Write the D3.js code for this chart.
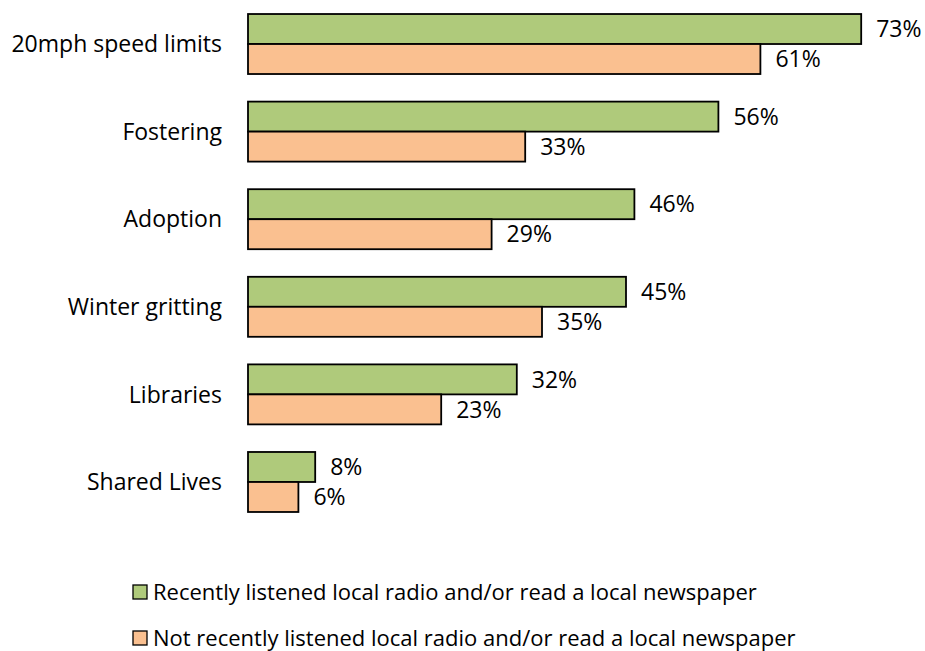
<!DOCTYPE html>
<html>
<head>
<meta charset="utf-8">
<script src="https://cdn.jsdelivr.net/npm/d3@7"></script>
<style>
  html, body { margin: 0; padding: 0; background: #fff; }
  svg text { font-family: "Open Sans", "Noto Sans", sans-serif; fill: #000; }
</style>
</head>
<body>
<svg id="chart" width="925" height="651"></svg>
<script>
// Share of respondents aware of each council service, by media consumption
const categories = ["20mph speed limits", "Fostering", "Adoption", "Winter gritting", "Libraries", "Shared Lives"];
const recentValues = [73, 56, 46, 45, 32, 8];
const notRecentValues = [61, 33, 29, 35, 23, 6];
const seriesNames = [
  "Recently listened local radio and/or read a local newspaper",
  "Not recently listened local radio and/or read a local newspaper"
];
const seriesColors = ["#afca7b", "#fac090"];

const svg = d3.select("#chart");

const x = d3.scaleLinear().domain([0, 100]).range([248, 1088]);
const y = d3.scaleBand().domain(categories).range([0, 526]).paddingInner(0.315).paddingOuter(0.16);
const sub = d3.scaleBand().domain([0, 1]).range([0, y.bandwidth()]);

const rows = categories.map((c, i) => ({ cat: c, vals: [recentValues[i], notRecentValues[i]] }));

const g = svg.selectAll("g.group").data(rows).join("g")
  .attr("class", "group")
  .attr("transform", d => `translate(0,${y(d.cat)})`);

g.selectAll("rect").data(d => d.vals.map((v, k) => ({ v, k }))).join("rect")
  .attr("x", x(0))
  .attr("y", d => sub(d.k))
  .attr("width", d => x(d.v) - x(0))
  .attr("height", sub.bandwidth())
  .attr("fill", d => seriesColors[d.k])
  .attr("stroke", "#000")
  .attr("stroke-width", 1.8);

g.selectAll("text.val").data(d => d.vals.map((v, k) => ({ v, k }))).join("text")
  .attr("class", "val")
  .attr("x", d => x(d.v) + 15)
  .attr("y", d => sub(d.k) + sub.bandwidth() / 2)
  .attr("dy", "0.36em")
  .attr("font-size", 23)
  .text(d => d.v + "%");

// category axis labels
svg.append("g").selectAll("text").data(categories).join("text")
  .attr("x", 222)
  .attr("y", d => y(d) + y.bandwidth() / 2)
  .attr("dy", "0.36em")
  .attr("text-anchor", "end")
  .attr("font-size", 23)
  .text(d => d);

// legend
const legend = svg.append("g").selectAll("g").data(seriesNames).join("g")
  .attr("transform", (d, i) => `translate(133,${585 + i * 46})`);
legend.append("rect")
  .attr("width", 14).attr("height", 14)
  .attr("fill", (d, i) => seriesColors[i])
  .attr("stroke", "#000").attr("stroke-width", 1.3);
legend.append("text")
  .attr("x", 20).attr("y", 7).attr("dy", "0.36em")
  .attr("font-size", 22)
  .text(d => d);
</script>
</body>
</html>
